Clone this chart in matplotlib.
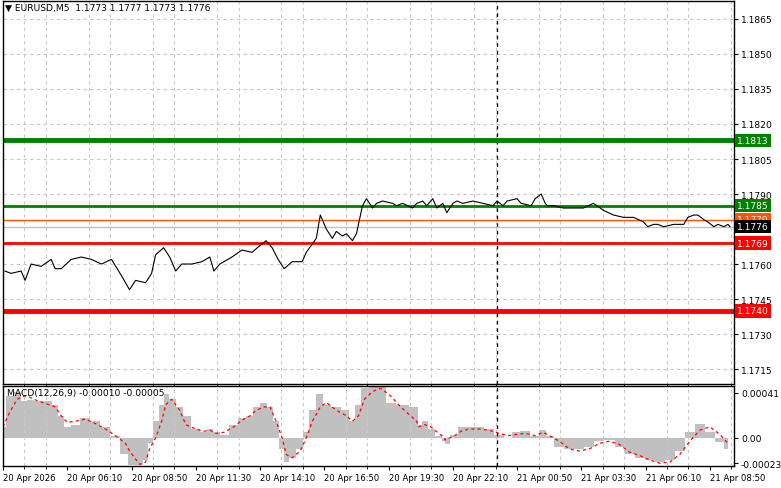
import matplotlib
matplotlib.use("Agg")
import matplotlib.pyplot as plt
import numpy as np

# bar index (5-minute bars) and close price
bars = [1, 4, 9, 11, 14, 19, 24, 26, 29, 34, 39, 44, 49, 54, 59, 63, 66, 71, 74, 76, 80, 83, 86, 89, 94, 99,
        103, 105, 108, 114, 119, 124, 128, 131, 134, 137, 140, 144, 149, 151, 156, 158, 161, 164, 166, 169,
        171, 174, 176, 179, 181, 184, 186, 189, 194, 196, 199, 204, 206, 209, 211, 214, 216, 219, 221, 224,
        226, 229, 234, 239, 244, 246, 249, 251, 256, 258, 263, 265, 268, 270, 271, 274, 279, 284, 289, 294,
        299, 304, 309, 311, 314, 319, 321, 324, 326, 329, 334, 339, 341, 344, 346, 349, 351, 354, 356, 359,
        361, 362]
close = [1.1757, 1.1756, 1.1757, 1.1753, 1.1760, 1.1759, 1.1762, 1.1758, 1.1758, 1.1762, 1.1763, 1.1762,
         1.1760, 1.1762, 1.1755, 1.1749, 1.1753, 1.1752, 1.1756, 1.1764, 1.1767, 1.1763, 1.1757, 1.1760,
         1.1760, 1.1761, 1.1763, 1.1757, 1.1760, 1.1763, 1.1766, 1.1765, 1.1768, 1.1770, 1.1767, 1.1762,
         1.1758, 1.1761, 1.1761, 1.1765, 1.1771, 1.1781, 1.1775, 1.1771, 1.1774, 1.1772, 1.1773, 1.1770,
         1.1773, 1.1785, 1.1788, 1.1784, 1.1786, 1.1787, 1.1786, 1.1785, 1.1786, 1.1784, 1.1786, 1.1787,
         1.1785, 1.1788, 1.1784, 1.1786, 1.1782, 1.1786, 1.1787, 1.1786, 1.1787, 1.1786, 1.1785, 1.1787,
         1.1785, 1.1787, 1.1788, 1.1786, 1.1785, 1.1788, 1.1790, 1.1786, 1.1785, 1.1785, 1.1784, 1.1784,
         1.1784, 1.1786, 1.1783, 1.1781, 1.1780, 1.1780, 1.1780, 1.1778, 1.1776, 1.1777, 1.1777, 1.1776,
         1.1777, 1.1777, 1.1780, 1.1781, 1.1781, 1.1779, 1.1778, 1.1776, 1.1777, 1.1776, 1.1777, 1.1776]

# MACD main (histogram) and signal, units of 1e-5
macd_bars = [0, 3, 7, 11, 13, 18, 23, 26, 29, 32, 36, 41, 46, 51, 56, 61, 63, 68, 71, 73, 76, 79, 81, 84, 88,
             91, 96, 100, 103, 106, 110, 115, 119, 123, 126, 130, 133, 136, 139, 141, 144, 148, 151, 154, 158,
             161, 166, 171, 174, 177, 180, 184, 188, 193, 198, 206, 207, 210, 213, 217, 220, 220, 225, 228,
             232, 237, 242, 247, 252, 255, 260, 265, 269, 272, 277, 282, 287, 292, 297, 302, 307, 312, 317,
             322, 327, 332, 337, 342, 347, 352, 357, 361]
macd = [10, 38, 42, 33, 34, 33, 33, 30, 20, 10, 12, 18, 15, 10, 2, -15, -25, -25, -20, -5, 15, 30, 40, 35,
        28, 20, 8, 5, 8, 5, 3, 12, 18, 20, 28, 32, 28, 15, -10, -22, -18, -10, 5, 25, 40, 30, 28, 25, 15,
        30, 45, 48, 47, 32, 30, 28, 12, 15, 8, 2, -3, -6, 3, 10, 10, 10, 8, 3, 0, 5, 6, 2, 7, 2, -8, -10,
        -10, -8, -3, -2, -8, -15, -18, -20, -22, -20, -12, 5, 13, 5, -4, -10]
signal = [10, 22, 35, 38, 37, 33, 30, 28, 20, 14, 15, 17, 13, 8, 2, -5, -12, -24, -22, -10, 0, 15, 30, 35,
          25, 12, 8, 6, 7, 4, 5, 10, 16, 20, 25, 28, 28, 15, 0, -15, -18, -12, 0, 15, 28, 32, 25, 20, 15,
          20, 35, 42, 45, 38, 28, 15, 10, 12, 10, 4, 0, -2, 2, 6, 8, 8, 7, 4, 2, 3, 4, 2, 5, 2, -3, -10,
          -12, -10, -5, -3, -6, -13, -16, -20, -23, -22, -15, -3, 7, 10, 3, -5]

price_ticks = [1.1865, 1.1850, 1.1835, 1.1820, 1.1805, 1.1790, 1.1760, 1.1745, 1.1730, 1.1715]
time_labels = ["20 Apr 2026", "20 Apr 06:10", "20 Apr 08:50", "20 Apr 11:30", "20 Apr 14:10",
               "20 Apr 16:50", "20 Apr 19:30", "20 Apr 22:10", "21 Apr 00:50", "21 Apr 03:30",
               "21 Apr 06:10", "21 Apr 08:50"]
tick_step = 32
cursor_bar = 246

# levels: (price, colour, width)
levels = [(1.1813, "#008000", 3.5), (1.1785, "#008000", 2), (1.1779, "#ff5500", 1),
          (1.1776, "#c0c0c0", 1), (1.1769, "#ff0000", 2), (1.1740, "#ff0000", 3.5)]
level_labels = [(1.1813, "#008000", "white"), (1.1785, "#008000", "white"), (1.1779, "#ff5500", "white"),
                (1.1776, "black", "white"), (1.1769, "#ff0000", "white"), (1.1740, "#ff0000", "white")]

W, H = 781, 489
fig = plt.figure(figsize=(W / 100, H / 100), dpi=100)
plt.rcParams["font.family"] = ["DejaVu Sans"]
fs = 6.6

x0, x1 = 3 / W, 734 / W
ax = fig.add_axes([x0, 1 - 385 / H, x1 - x0, 383 / H])
mx = fig.add_axes([x0, 1 - 467 / H, x1 - x0, 80 / H], sharex=ax)

xmax = 364
for a in (ax, mx):
    a.set_xlim(0, xmax)
    for s in a.spines.values():
        s.set_color("black")
        s.set_linewidth(1)
    a.yaxis.tick_right()
    a.tick_params(axis="both", labelsize=fs, length=3, direction="out", pad=2)
    a.set_xticks(np.arange(0, xmax, tick_step / 3), minor=True)
    a.grid(True, which="minor", axis="x", color="#c8c8c8", linestyle=(0, (3, 3)), linewidth=0.8)
    a.axvline(cursor_bar, color="black", linestyle=(0, (3, 3)), linewidth=0.9)

ax.set_ylim(1.17086, 1.18727)
ax.set_yticks(price_ticks)
ax.set_yticklabels([f"{p:.4f}" for p in price_ticks])
ax.grid(True, axis="y", color="#c8c8c8", linestyle=(0, (3, 3)), linewidth=0.8)
ax.tick_params(axis="x", labelbottom=False, length=0)

for p, c, w in levels:
    ax.axhline(p, color=c, linewidth=w, zorder=2)
ax.plot(bars, close, color="black", linewidth=0.8, zorder=3)

for p, bg, fg in level_labels:
    ax.text(1.004, p, f"{p:.4f}", transform=ax.get_yaxis_transform(), fontsize=fs, color=fg,
            va="center", ha="left", bbox=dict(boxstyle="square,pad=0.25", fc=bg, ec="none"), zorder=5,
            clip_on=False)

ax.text(0.003, 0.995, "▼ EURUSD,M5  1.1773 1.1777 1.1773 1.1776", transform=ax.transAxes,
        fontsize=fs, va="top", ha="left")

mv = np.array(macd) * 1e-5
sv = np.array(signal) * 1e-5
mx.fill_between(macd_bars, mv, 0, color="#c0c0c0", step="mid", linewidth=0)
mx.plot(macd_bars, sv, color="red", linestyle=(0, (2.5, 2.5)), linewidth=0.9)
mx.set_ylim(-0.000255, 0.00047)
mx.set_yticks([0.00041, 0.0, -0.00023])
mx.set_yticklabels(["0.00041", "0.00", "-0.00023"])
mx.set_xticks(np.arange(0, len(time_labels) * tick_step, tick_step))
mx.set_xticklabels(time_labels, ha="left", fontsize=6.1)
mx.text(0.005, 0.97, "MACD(12,26,9) -0.00010 -0.00005", transform=mx.transAxes, fontsize=fs,
        va="top", ha="left")

fig.savefig("out.png", dpi=100)
